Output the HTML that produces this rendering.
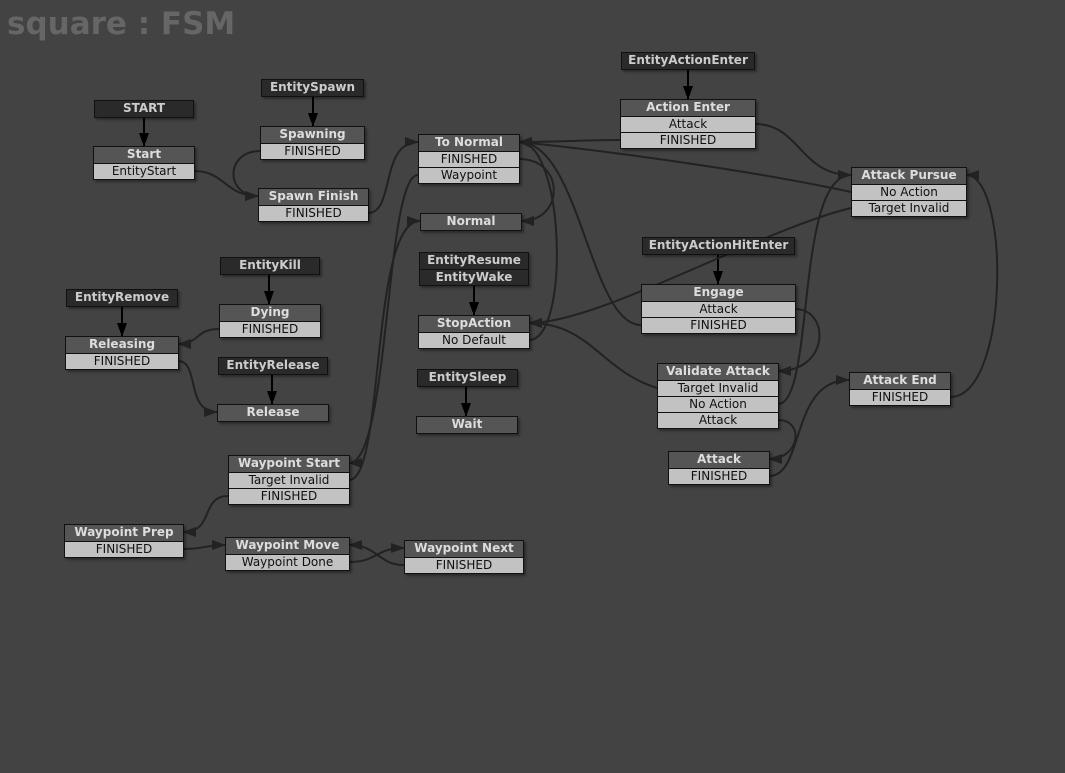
<!DOCTYPE html>
<html><head><meta charset="utf-8"><style>
body{margin:0;width:1065px;height:773px;background:#434343;position:relative;overflow:hidden;font-family:"DejaVu Sans","Liberation Sans",sans-serif}
.t{position:absolute;left:7px;top:6px;font:bold 31px "DejaVu Sans","Liberation Sans",sans-serif;color:#666}
.b{position:absolute;box-sizing:border-box;border:1px solid #111;box-shadow:2px 2px 2px rgba(0,0,0,.35)}
.b div{height:16px;line-height:15px;text-align:center;font-size:12px;white-space:nowrap;box-sizing:border-box}
.h{background:#555;color:#ddd;font-weight:bold}
.r{background:#c2c2c2;color:#111;border-top:1px solid #111}
.e{background:#2a2a2a;color:#ccc;font-weight:bold}
.e2{border-top:1px solid #111}
svg{position:absolute;left:0;top:0}
</style></head><body>
<div class="t">square : FSM</div>
<svg width="1065" height="773" fill="none" stroke="#222" stroke-width="2">
<defs><marker id="a" markerWidth="14" markerHeight="10" refX="13" refY="5" orient="auto" markerUnits="userSpaceOnUse"><path d="M0,0L14,5L0,10z" fill="#222" stroke="none"/></marker>
<marker id="k" markerWidth="10" markerHeight="14" refX="13" refY="5" orient="auto" markerUnits="userSpaceOnUse"><path d="M0,0L14,5L0,10z" fill="#000" stroke="none"/></marker></defs>
<g stroke="#000" marker-end="url(#k)">
<path d="M144,115V146"/><path d="M313,94V126"/><path d="M688,67V99"/><path d="M718,252V284"/><path d="M474,283V315"/><path d="M466,384V416"/><path d="M269,272V304"/><path d="M122,304V336"/><path d="M272,372V404"/>
</g>
<g marker-end="url(#a)">
<path d="M194,171C225,171 225,196 258,196"/>
<path d="M260,151C225,151 225,196 258,196"/>
<path d="M368,213C395,213 380,142 418,142"/>
<path d="M418,175C385,175 390,463 349,463"/>
<path d="M349,480C385,480 370,221 420,221"/>
<path d="M519,159C565,159 565,221 521,221"/>
<path d="M620,140C580,140 560,142 519,142"/>
<path d="M851,192C750,170 600,150 519,142"/>
<path d="M641,325C590,325 580,142 519,142"/>
<path d="M529,340C570,340 565,142 519,142"/>
<path d="M851,208C760,230 600,323 529,323"/>
<path d="M657,388C600,370 590,323 529,323"/>
<path d="M755,124C800,124 800,175 851,175"/>
<path d="M795,309C830,309 830,371 778,371"/>
<path d="M778,404C815,404 795,175 851,175"/>
<path d="M778,420C805,420 800,459 769,459"/>
<path d="M769,476C805,476 790,380 849,380"/>
<path d="M950,397C1010,397 1010,175 966,175"/>
<path d="M219,329C195,329 200,344 178,344"/>
<path d="M178,361C200,361 185,412 217,412"/>
<path d="M228,496C200,496 215,532 183,532"/>
<path d="M183,549C205,549 205,545 225,545"/>
<path d="M349,562C378,562 375,548 404,548"/>
<path d="M404,565C378,565 378,545 349,545"/>
</g>
</svg>
<div class="b" style="left:94px;top:100px;width:100px"><div class="e">START</div></div>
<div class="b" style="left:93px;top:146px;width:102px"><div class="h">Start</div><div class="r">EntityStart</div></div>
<div class="b" style="left:261px;top:79px;width:103px"><div class="e">EntitySpawn</div></div>
<div class="b" style="left:260px;top:126px;width:105px"><div class="h">Spawning</div><div class="r">FINISHED</div></div>
<div class="b" style="left:258px;top:188px;width:111px"><div class="h">Spawn Finish</div><div class="r">FINISHED</div></div>
<div class="b" style="left:418px;top:134px;width:102px"><div class="h">To Normal</div><div class="r">FINISHED</div><div class="r">Waypoint</div></div>
<div class="b" style="left:420px;top:213px;width:102px"><div class="h">Normal</div></div>
<div class="b" style="left:419px;top:252px;width:110px"><div class="e">EntityResume</div><div class="e e2">EntityWake</div></div>
<div class="b" style="left:418px;top:315px;width:112px"><div class="h">StopAction</div><div class="r">No Default</div></div>
<div class="b" style="left:417px;top:369px;width:101px"><div class="e">EntitySleep</div></div>
<div class="b" style="left:416px;top:416px;width:102px"><div class="h">Wait</div></div>
<div class="b" style="left:220px;top:257px;width:100px"><div class="e">EntityKill</div></div>
<div class="b" style="left:219px;top:304px;width:102px"><div class="h">Dying</div><div class="r">FINISHED</div></div>
<div class="b" style="left:66px;top:289px;width:112px"><div class="e">EntityRemove</div></div>
<div class="b" style="left:65px;top:336px;width:114px"><div class="h">Releasing</div><div class="r">FINISHED</div></div>
<div class="b" style="left:218px;top:357px;width:110px"><div class="e">EntityRelease</div></div>
<div class="b" style="left:217px;top:404px;width:112px"><div class="h">Release</div></div>
<div class="b" style="left:228px;top:455px;width:122px"><div class="h">Waypoint Start</div><div class="r">Target Invalid</div><div class="r">FINISHED</div></div>
<div class="b" style="left:64px;top:524px;width:120px"><div class="h">Waypoint Prep</div><div class="r">FINISHED</div></div>
<div class="b" style="left:225px;top:537px;width:125px"><div class="h">Waypoint Move</div><div class="r">Waypoint Done</div></div>
<div class="b" style="left:404px;top:540px;width:120px"><div class="h">Waypoint Next</div><div class="r">FINISHED</div></div>
<div class="b" style="left:621px;top:52px;width:134px"><div class="e">EntityActionEnter</div></div>
<div class="b" style="left:620px;top:99px;width:136px"><div class="h">Action Enter</div><div class="r">Attack</div><div class="r">FINISHED</div></div>
<div class="b" style="left:851px;top:167px;width:116px"><div class="h">Attack Pursue</div><div class="r">No Action</div><div class="r">Target Invalid</div></div>
<div class="b" style="left:642px;top:237px;width:153px"><div class="e">EntityActionHitEnter</div></div>
<div class="b" style="left:641px;top:284px;width:155px"><div class="h">Engage</div><div class="r">Attack</div><div class="r">FINISHED</div></div>
<div class="b" style="left:657px;top:363px;width:122px"><div class="h">Validate Attack</div><div class="r">Target Invalid</div><div class="r">No Action</div><div class="r">Attack</div></div>
<div class="b" style="left:849px;top:372px;width:102px"><div class="h">Attack End</div><div class="r">FINISHED</div></div>
<div class="b" style="left:668px;top:451px;width:102px"><div class="h">Attack</div><div class="r">FINISHED</div></div>
</body></html>
